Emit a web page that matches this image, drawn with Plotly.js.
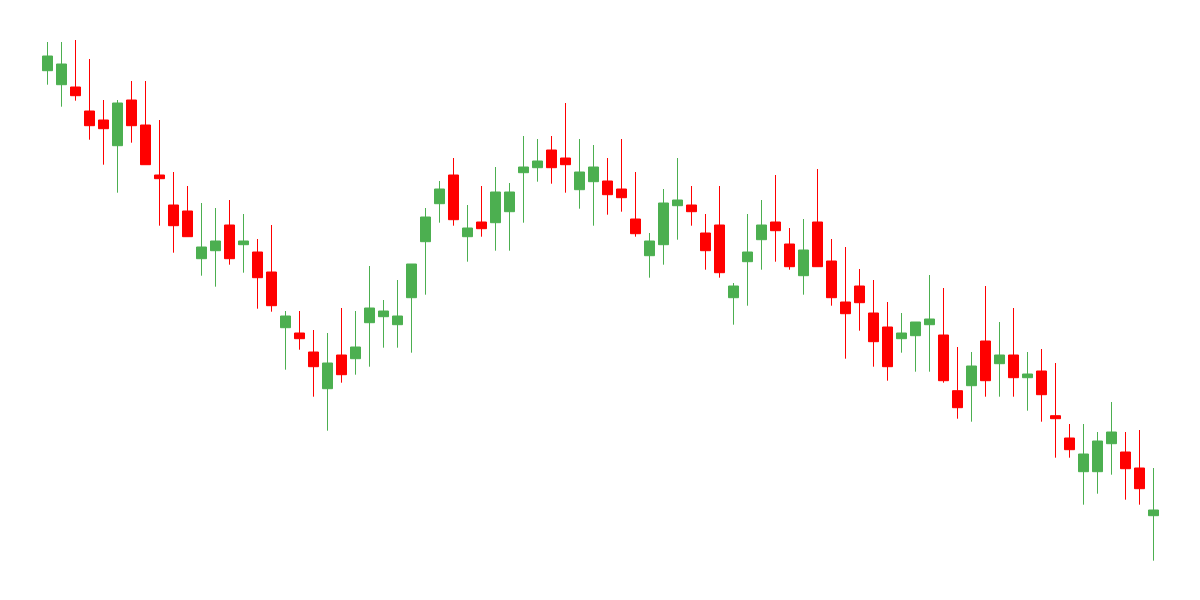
<!DOCTYPE html>
<html>
<head>
<meta charset="utf-8">
<script src="https://cdn.plot.ly/plotly-3.0.1.min.js"></script>
<style>html,body{margin:0;padding:0;background:#fff;}#chart{width:1200px;height:600px;}</style>
</head>
<body>
<div id="chart"></div>
<script>
var periods = [];
for (var i = 0; i < 80; i++) periods.push(i);

var openVals = [529.3,515.3,513,489,480,454.3,500,475,425,395,389,341.3,349.3,375,355.3,348,328,272.3,267,248,
211.3,245,241.3,277.3,283.3,275.3,302.3,358.3,396.3,425,363.3,378,377.3,388.3,427.3,432.3,450,442,410.3,418.3,
419,411,381,344.3,355.3,394.3,395,367,375,302.3,338.3,360.3,378,356,324.3,378,339,298,314,287,
273,261.3,264.3,275.3,265,209.3,214.3,259,236.3,245,222.3,229,184.3,162,128.3,128.3,156.3,148,132,84.3];

var highVals = [558,558,560,541,500,500,519,519,480,428,414,397,392,400,386,361,375,289,289,270,
267,292,289,334,300,320,336,392,419,442,395,414,433,417,464,461,464,497,461,455,
442,461,428,367,411,442,414,386,414,317,386,400,425,372,381,431,361,353,331,320,
298,287,278,325,312,253,248,314,278,292,248,251,237,176,176,168,198,168,170,132];

var lowVals = [515.3,493.3,499.3,460.3,435.3,407.3,457.3,435.3,374.3,347.3,363.3,324.3,313.3,335.3,327.3,291.3,288.3,230.3,250.3,203.3,
169.3,217.3,225.3,233.3,252.3,252.3,247.3,305.3,377.3,374.3,338.3,363.3,349.3,349.3,377.3,418.3,416.3,407.3,391.3,374.3,
385.3,388.3,363.3,322.3,335.3,360.3,374.3,330.3,322.3,275.3,294.3,330.3,338.3,330.3,305.3,333.3,294.3,241.3,269.3,233.3,
219.3,247.3,228.3,228.3,217.3,181.3,178.3,203.3,203.3,203.3,189.3,178.3,142.3,142.3,95.3,106.3,125.3,100.3,95.3,39.3];

var closeVals = [544,536,504.3,474.3,471.3,497,474.3,435.3,421.3,374.3,363.3,353,359,341.3,359,322.3,294.3,284,261.3,233.3,
237,225.3,253,292,289,284,336,383,411,380.3,372,371.3,408,408,433,439,432.3,435.3,428,433,
405.3,402.3,366.3,359,397,400,388.3,349.3,327.3,314,348,375,369.3,333.3,350,333.3,302.3,286.3,297.3,258.3,
233.3,267,278,281,219.3,192.3,234,219.3,245,222.3,226,205.3,181.3,150.3,146,159,168,131.3,111.3,90];

var upColor = '#4CAF50';
var downColor = '#FF0000';

var trace = {
  type: 'candlestick',
  x: periods,
  open: openVals,
  high: highVals,
  low: lowVals,
  close: closeVals,
  increasing: {line: {color: upColor, width: 1}, fillcolor: upColor},
  decreasing: {line: {color: downColor, width: 1}, fillcolor: downColor},
  whiskerwidth: 0,
  hoverinfo: 'none'
};

var layout = {
  width: 1200,
  height: 600,
  margin: {l: 0, r: 0, t: 0, b: 0, pad: 0},
  paper_bgcolor: '#ffffff',
  plot_bgcolor: '#ffffff',
  showlegend: false,
  boxgap: 0.286,
  boxgroupgap: 0,
  xaxis: {visible: false, range: [-3.392857, 82.321429], rangeslider: {visible: false}, fixedrange: true},
  yaxis: {visible: false, range: [0, 600], fixedrange: true}
};

Plotly.newPlot('chart', [trace], layout, {displayModeBar: false, staticPlot: true});
</script>
</body>
</html>
